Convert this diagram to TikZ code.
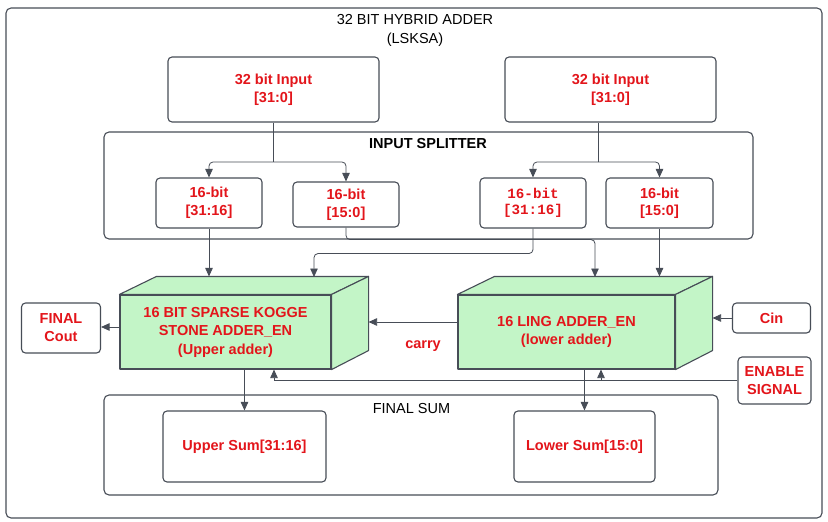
\documentclass[tikz,border=0pt]{standalone}
\usepackage{fontspec}
\setmainfont{Liberation Sans}
\newfontfamily\monob{Liberation Mono}
\usetikzlibrary{arrows.meta,calc}
\definecolor{txtred}{HTML}{E3151B}
\definecolor{lgreen}{HTML}{C3F5C7}
\definecolor{lin}{HTML}{474D57}
\begin{document}
\begin{tikzpicture}[x=1pt,y=-1pt,
  box/.style={draw=lin,line width=1.1pt,rounded corners=4pt,fill=white,align=center,inner sep=0pt,text=txtred,font=\bfseries\fontsize{14.5}{18}\selectfont},
  grp/.style={draw=lin,line width=1.1pt,rounded corners=5pt,inner sep=0pt},
  face/.style={draw=lin,line width=1.1pt,fill=lgreen,line join=round},
  lbl/.style={text=txtred,font=\bfseries\fontsize{14.5}{18.5}\selectfont,align=center,inner sep=0pt},
  plain/.style={font=\fontsize{14.5}{19}\selectfont,align=center,inner sep=0pt},
  conn/.style={draw=lin,line width=0.8pt,rounded corners=4pt},
  arr/.style={conn,-{Triangle[length=8.5pt,width=7.5pt]}}
]
\useasboundingbox (0,0) rectangle (828,522);
\fill[white] (0,0) rectangle (828,522);
% frames
\node[grp,minimum width=816pt,minimum height=510pt] (outer) at (414,263) {};
\node[plain] (title) at (415,30.5) {32 BIT HYBRID ADDER\\(LSKSA)};
\node[grp,minimum width=649pt,minimum height=107pt] (split) at (428.5,185.5) {};
\node[plain,font=\bfseries\fontsize{14.5}{18}\selectfont] (splt) at (428,144) {INPUT SPLITTER};
\node[grp,minimum width=614pt,minimum height=100pt] (fsum) at (411,445) {};
\node[plain] (fst) at (411.5,409) {FINAL SUM};
% inputs
\node[box,minimum width=211pt,minimum height=65pt] (in1) at (273.5,89.5) {32 bit Input\\{[31:0]}};
\node[box,minimum width=211pt,minimum height=65pt] (in2) at (610.5,89.5) {32 bit Input\\{[31:0]}};
% splitter boxes
\node[box,minimum width=106pt,minimum height=50pt] (s1) at (209,203) {16-bit\\{[31:16]}};
\node[box,minimum width=106pt,minimum height=45pt] (s2) at (346,204.5) {16-bit\\{[15:0]}};
\node[box,minimum width=106pt,minimum height=50pt,font=\monob\bfseries\fontsize{14.2}{16}\selectfont] (s3) at (533,203) {16-bit\\{[31:16]}};
\node[box,minimum width=107pt,minimum height=50pt,font=\bfseries\fontsize{14.5}{17}\selectfont] (s4) at (659.5,203) {16-bit\\{[15:0]}};
% cuboids
\node[face,minimum width=211pt,minimum height=74pt,lbl] (sks) at (225.5,332) {16 BIT SPARSE KOGGE\\STONE ADDER\_EN\\(Upper adder)};
\draw[face] (sks.north west) -- ++(37,-18) -- ($(sks.north east)+(37,-18)$) -- (sks.north east) -- cycle;
\draw[face] (sks.north east) -- ++(37,-18) -- ($(sks.south east)+(37,-19)$) -- (sks.south east) -- cycle;
\coordinate (sksB) at ($(sks.north west)+(37,-18)$);
\node[face,minimum width=217pt,minimum height=74pt,lbl] (ling) at (566.5,332) {16 LING ADDER\_EN\\(lower adder)};
\draw[face] (ling.north west) -- ++(37,-18) -- ($(ling.north east)+(37,-18)$) -- (ling.north east) -- cycle;
\draw[face] (ling.north east) -- ++(37,-18) -- ($(ling.south east)+(37,-19)$) -- (ling.south east) -- cycle;
\coordinate (lingB) at ($(ling.north west)+(37,-18)$);
\coordinate (lingBR) at ($(ling.north east)+(37,-18)$);
% side boxes
\node[box,minimum width=79pt,minimum height=50pt] (cout) at (61,328) {FINAL\\Cout};
\node[box,minimum width=78pt,minimum height=30pt] (cin) at (771.5,318) {Cin};
\node[box,minimum width=73pt,minimum height=47pt] (en) at (774.5,380.5) {ENABLE\\SIGNAL};
% outputs
\node[box,minimum width=163pt,minimum height=71pt] (upper) at (244.5,446.5) {Upper Sum[31:16]};
\node[box,minimum width=141pt,minimum height=71pt] (lower) at (584.5,446.5) {Lower Sum[15:0]};
\node[lbl] (carry) at (423,346) {carry};
% connectors
\coordinate (j1) at (273.5,162);
\coordinate (j2) at (598,162);
\draw[conn] (in1.south) -- (j1);
\draw[arr] (j1) -| (s1.north);
\draw[arr] (j1) -| (s2.north);
\draw[conn] (in2.south -| j2) -- (j2);
\draw[arr] (j2) -| (s3.north);
\draw[arr] (j2) -| (s4.north);
\coordinate (tA) at (314,277);
\coordinate (tB) at (595,277);
\draw[arr] (s1.south) -- (s1.south |- sksB);
\draw[arr] (s4.south) -- (s4.south |- lingB);
\draw[arr] (s2.south) -- ++(0,12) -| (tB);
\draw[arr] (s3.south) -- ++(0,25) -| (tA);
\draw[arr] ($(ling.west)+(0,-10)$) -- ($(sks.east)+(37,-10)$);
\coordinate (co) at ($(sks.west)+(0,-5)$);
\draw[arr] (co) -- (co -| cout.east);
\draw[arr] (cin.west) -- (cin.west -| lingBR);
\coordinate (eL) at (274,380.5);
\coordinate (eM) at (601,380.5);
\draw[conn] (en.west) -- (eL);
\draw[arr] (eL) -- (eL |- sks.south);
\draw[arr] (eM) -- (eM |- ling.south);
\draw[arr] (upper.north |- sks.south) -- (upper.north);
\draw[arr] (lower.north |- ling.south) -- (lower.north);
\end{tikzpicture}
\end{document}
